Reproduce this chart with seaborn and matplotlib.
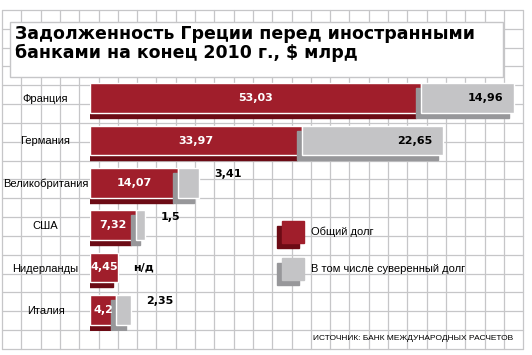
import pandas as pd
import seaborn as sns
import matplotlib
matplotlib.use('Agg')
import matplotlib.pyplot as plt
from matplotlib.patches import Rectangle
from matplotlib.transforms import ScaledTranslation

# данные
countries = ['Франция', 'Германия', 'Великобритания', 'США', 'Нидерланды', 'Италия']
total_debt = [53.03, 33.97, 14.07, 7.32, 4.45, 4.2]
sovereign_debt = [14.96, 22.65, 3.41, 1.5, None, 2.35]
sovereign_labels = ['14,96', '22,65', '3,41', '1,5', 'н/д', '2,35']

title = 'Задолженность Греции перед иностранными\nбанками на конец 2010 г., $ млрд'
legend_labels = ['Общий долг', 'В том числе суверенный долг']
source = 'ИСТОЧНИК: БАНК МЕЖДУНАРОДНЫХ РАСЧЕТОВ'

df = pd.DataFrame({'country': countries, 'total': total_debt, 'sovereign': sovereign_debt})

RED, RED_DARK = '#a01e2b', '#6c0b15'
GREY, GREY_DARK = '#c4c4c6', '#97979a'
GRIDC = '#c6c6c8'
NARROW = ['Liberation Sans', 'DejaVu Sans']

sns.set_style('white')
plt.rcParams['font.family'] = ['DejaVu Sans']
plt.rcParams['text.color'] = 'black'
plt.rcParams['ytick.color'] = 'black'

fig = plt.figure(figsize=(5.32, 3.55), dpi=100)

# фон в клеточку (пиксельные координаты)
bg = fig.add_axes([0, 0, 1, 1], zorder=0)
bg.set_xlim(0, 532)
bg.set_ylim(355, 0)
bg.axis('off')
for i in range(28):
    bg.plot([2 + i * 19.3] * 2, [10, 349], color=GRIDC, lw=0.9)
for j in range(19):
    bg.plot([2, 523], [10 + j * 18.83] * 2, color=GRIDC, lw=0.9)

# рамка заголовка
bg.add_patch(Rectangle((10, 22), 493, 55, facecolor='white', edgecolor=GRIDC, lw=1, zorder=2))
bg.text(15, 25, title, fontsize=12.5, fontweight='bold', va='top', ha='left',
        linespacing=1.05, zorder=3)

# основной график
ax = fig.add_axes([90 / 532, 1 - 331 / 355, (527 - 90) / 532, (331 - 77) / 355], zorder=1)
ax.patch.set_alpha(0)

sns.barplot(data=df, x='total', y='country', color=RED, width=0.7, saturation=1,
            orient='h', ax=ax, zorder=2)
red_patches = list(ax.patches)

ys = list(range(len(countries)))
grey_x = df['sovereign'].fillna(0)
grey_bars = ax.barh(ys, grey_x, left=df['total'], height=0.7, color=GREY, zorder=4)

# "объём": тёмная грань, сдвинутая влево-вниз
shift = ax.transData + ScaledTranslation(-5 / 100, -5 / 100, fig.dpi_scale_trans)
for p in red_patches:
    ax.add_patch(Rectangle(p.get_xy(), p.get_width(), p.get_height(), color=RED_DARK,
                           transform=shift, zorder=1))
for p, v in zip(grey_bars, sovereign_debt):
    if v is None or pd.isna(v):
        p.set_visible(False)
        continue
    ax.add_patch(Rectangle(p.get_xy(), p.get_width(), p.get_height(), color=GREY_DARK,
                           transform=shift, zorder=3))

ax.set_xlim(0, 70)
ax.set_ylim(5.5, -0.5)
ax.set_xlabel('')
ax.set_ylabel('')
ax.set_xticks([])
sns.despine(ax=ax, left=True, bottom=True)
ax.tick_params(axis='y', length=0, pad=32)
for lab in ax.get_yticklabels():
    lab.set_horizontalalignment('center')
    lab.set_fontsize(8)
    lab.set_family(NARROW)

# подписи значений
for y, t, s, sl in zip(ys, total_debt, sovereign_debt, sovereign_labels):
    ax.text(t / 2, y, f'{t:.2f}'.rstrip('0').replace('.', ','), color='white', fontsize=8,
            fontweight='bold', ha='center', va='center', zorder=6)
    if s is None or pd.isna(s):
        ax.text(t + 2.5, y, sl, fontsize=8, fontweight='bold', ha='left', va='center', zorder=6)
    elif s >= 6:
        ax.text(t + s - 1.8, y, sl, fontsize=8, fontweight='bold', ha='right', va='center', zorder=6)
    else:
        ax.text(t + s + 2.5, y - 0.2, sl, fontsize=8, fontweight='bold', ha='left', va='center', zorder=6)

# легенда
for (yy, c, cd), lab in zip([(221, RED, RED_DARK), (258, GREY, GREY_DARK)], legend_labels):
    bg.add_patch(Rectangle((277, yy + 5), 22, 22, color=cd, zorder=2))
    bg.add_patch(Rectangle((282, yy), 22, 22, color=c, zorder=3))
    bg.text(311, yy + 11, lab, fontsize=8, family=NARROW, va='center', ha='left', zorder=3)

bg.text(513, 338, source, fontsize=6, family=NARROW, va='center', ha='right', zorder=3)

fig.savefig('out.png', dpi=100)
